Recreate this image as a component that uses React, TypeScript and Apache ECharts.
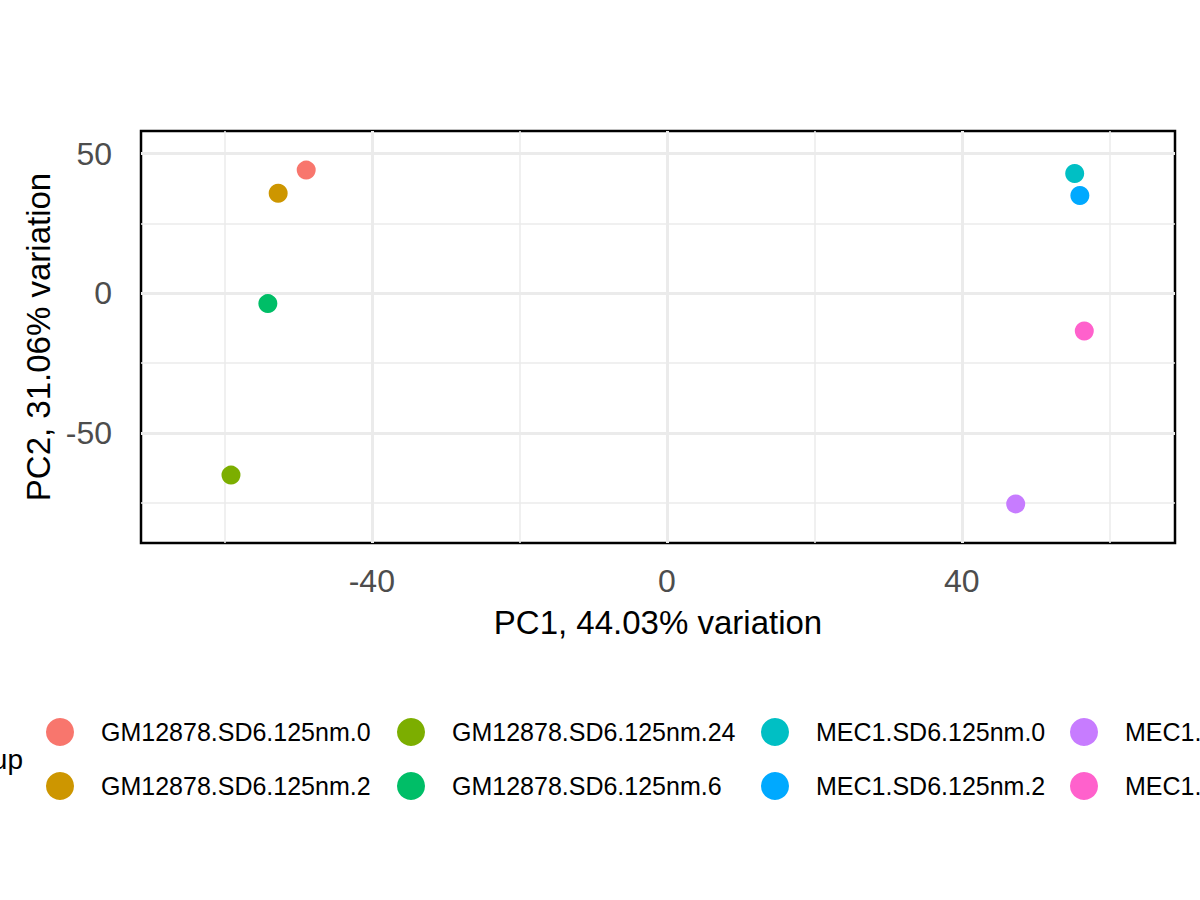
import * as echarts from 'echarts';
import { useEffect, useRef } from 'react';

// PCA biplot: one point per sample group
const GROUPS = [
  'GM12878.SD6.125nm.0',
  'GM12878.SD6.125nm.2',
  'GM12878.SD6.125nm.24',
  'GM12878.SD6.125nm.6',
  'MEC1.SD6.125nm.0',
  'MEC1.SD6.125nm.2',
  'MEC1.SD6.125nm.24',
  'MEC1.SD6.125nm.6',
];
const COLORS = ['#F8766D', '#CD9600', '#7CAE00', '#00BE67', '#00BFC4', '#00A9FF', '#C77CFF', '#FF61CC'];
const PC1 = [-48.9, -52.7, -59.1, -54.1, 55.3, 56.0, 47.3, 56.6];
const PC2 = [44.1, 35.8, -65.1, -3.7, 42.9, 35.0, -75.4, -13.5];

const X_TICKS = [-40, 0, 40];
const X_MINOR = [-60, -20, 20, 60];
const Y_TICKS = [-50, 0, 50];
const Y_MINOR = [-75, -25, 25];
const X_RANGE = [-71.3, 68.9];
const Y_RANGE = [-89.4, 58.1];

const FONT = 'Liberation Sans';
const GRID_COLOR = '#EBEBEB';

// legend columns: circle left edges
const LEGEND_LEFT = [46, 397, 761, 1070];

export default function App() {
  const chartRef = useRef<HTMLDivElement>(null);

  useEffect(() => {
    if (!chartRef.current) return;
    const chart = echarts.init(chartRef.current, undefined, { renderer: 'svg' });

    const gridLines = [
      ...X_TICKS.map(v => ({ xAxis: v, lineStyle: { width: 3 } })),
      ...X_MINOR.map(v => ({ xAxis: v, lineStyle: { width: 1.5 } })),
      ...Y_TICKS.map(v => ({ yAxis: v, lineStyle: { width: 3 } })),
      ...Y_MINOR.map(v => ({ yAxis: v, lineStyle: { width: 1.5 } })),
    ];

    const axisCommon = {
      type: 'value' as const,
      nameLocation: 'middle' as const,
      nameTextStyle: { fontFamily: FONT, fontSize: 33, color: '#000' },
      axisLine: { show: false },
      axisTick: { show: true, length: 9, lineStyle: { color: '#333333', width: 2.5 } },
      splitLine: { show: false },
    };

    chart.setOption({
      animation: false,
      backgroundColor: '#fff',
      textStyle: { fontFamily: FONT },
      grid: {
        left: 141,
        top: 131,
        right: 25,
        bottom: 357,
        show: true,
        borderColor: '#000',
        borderWidth: 2.5,
        backgroundColor: 'transparent',
      },
      xAxis: {
        ...axisCommon,
        min: X_RANGE[0],
        max: X_RANGE[1],
        name: 'PC1, 44.03% variation',
        nameGap: 63,
        axisTick: { ...axisCommon.axisTick, customValues: X_TICKS },
        axisLabel: {
          customValues: X_TICKS,
          margin: 22,
          fontFamily: FONT,
          fontSize: 32,
          color: '#4D4D4D',
        },
      },
      yAxis: {
        ...axisCommon,
        min: Y_RANGE[0],
        max: Y_RANGE[1],
        name: 'PC2, 31.06% variation',
        nameGap: 83,
        axisTick: { ...axisCommon.axisTick, customValues: Y_TICKS },
        axisLabel: {
          customValues: Y_TICKS,
          margin: 29,
          fontFamily: FONT,
          fontSize: 32,
          color: '#4D4D4D',
        },
      },
      legend: LEGEND_LEFT.map((left, i) => ({
        orient: 'vertical',
        left,
        top: 718,
        padding: 0,
        itemWidth: 28,
        itemHeight: 28,
        itemGap: 26,
        icon: 'circle',
        selectedMode: false,
        data: GROUPS.slice(i * 2, i * 2 + 2),
        textStyle: { fontFamily: FONT, fontSize: 25, color: '#000', padding: [0, 0, 0, 22] },
      })),
      graphic: [
        {
          type: 'text',
          x: 23,
          y: 759,
          style: {
            text: 'group',
            fontFamily: FONT,
            fontSize: 28,
            fill: '#000',
            textAlign: 'right',
            textVerticalAlign: 'middle',
          },
        },
      ],
      series: [
        {
          name: 'grid',
          type: 'scatter',
          data: [],
          silent: true,
          markLine: {
            z: 1,
            silent: true,
            symbol: 'none',
            animation: false,
            label: { show: false },
            lineStyle: { color: GRID_COLOR, type: 'solid' },
            data: gridLines,
          },
        },
        ...GROUPS.map((g, i) => ({
          name: g,
          type: 'scatter',
          z: 3,
          symbol: 'circle',
          symbolSize: 19,
          itemStyle: { color: COLORS[i], opacity: 1 },
          data: [[PC1[i], PC2[i]]],
        })),
      ],
    });

    return () => {
      chart.dispose();
    };
  }, []);

  return <div ref={chartRef} style={{ position: 'fixed', left: 0, top: 0, width: 1200, height: 900 }} />;
}
